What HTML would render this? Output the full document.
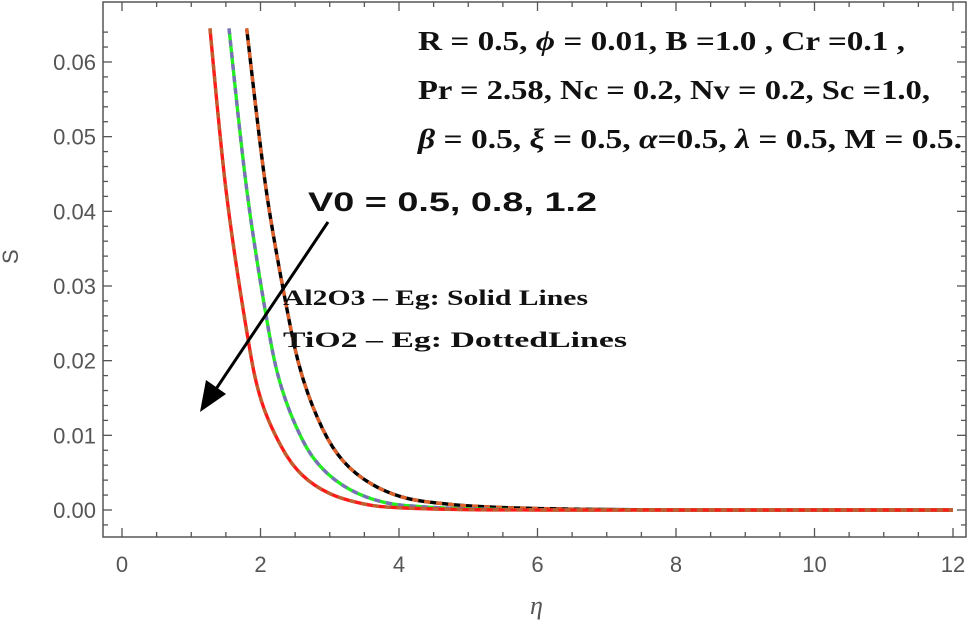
<!DOCTYPE html>
<html><head><meta charset="utf-8"><style>
body{margin:0;background:#fff;}
svg{display:block;}
</style></head><body>
<svg id="chart" width="974" height="626" viewBox="0 0 974 626">
<rect x="103" y="2" width="863" height="535" fill="none" stroke="#555" stroke-width="1.5"/>
<g id="ticks"></g>
<g id="series"></g>
<text x="12" y="258" font-family="Liberation Sans, sans-serif" font-size="22" fill="#555" transform="rotate(-90 18 258)">S</text>
<text x="530" y="614" font-family="Liberation Serif, serif" font-style="italic" font-size="26" fill="#555">η</text>
<g font-family="Liberation Serif, serif" font-weight="bold" font-size="27" fill="#111">
<text x="418" y="50" textLength="487" lengthAdjust="spacingAndGlyphs">R = 0.5, <tspan font-style="italic">ϕ</tspan> = 0.01, B =1.0 , Cr =0.1 ,</text>
<text x="418" y="99" textLength="512" lengthAdjust="spacingAndGlyphs">Pr = 2.58, Nc = 0.2, Nv = 0.2, Sc =1.0,</text>
<text x="418" y="148" textLength="544" lengthAdjust="spacingAndGlyphs"><tspan font-style="italic">β</tspan> = 0.5, <tspan font-style="italic">ξ</tspan> = 0.5,  <tspan font-style="italic">α</tspan>=0.5, <tspan font-style="italic">λ</tspan> = 0.5, M = 0.5.</text>
</g>
<text x="308" y="211" font-family="Liberation Sans, sans-serif" font-weight="bold" font-size="27" fill="#111" textLength="289" lengthAdjust="spacingAndGlyphs">V0 =  0.5, 0.8, 1.2</text>
<text x="283" y="305" font-family="Liberation Serif, serif" font-weight="bold" font-size="22" fill="#111" textLength="305" lengthAdjust="spacingAndGlyphs">Al2O3 – Eg: Solid Lines</text>
<text x="283" y="347" font-family="Liberation Serif, serif" font-weight="bold" font-size="22" fill="#111" textLength="344" lengthAdjust="spacingAndGlyphs">TiO2 – Eg: DottedLines</text>
<line x1="328" y1="222" x2="214" y2="392" stroke="#000" stroke-width="3"/>
<polygon points="200,412 206,380 226,394" fill="#000"/>
</svg>
<script>
const xTicks=[0,2,4,6,8,10,12];
const yTicks=[0.00,0.01,0.02,0.03,0.04,0.05,0.06];
const yTickLabels=["0.00","0.01","0.02","0.03","0.04","0.05","0.06"];
const etaRed=[1.27,1.5,1.8,2.0,2.3,2.6,3.0,3.5,4.0,5,6,8,10,12];
const sRed=[0.0645,0.043,0.024,0.015,0.0085,0.0047,0.0022,0.0008,0.0003,0.00005,0,0,0,0];
const etaGreen=[1.545,1.8,2.1,2.3,2.6,2.9,3.3,3.8,4.4,5.3,6.5,8,10,12];
const sGreen=[0.0645,0.043,0.025,0.0165,0.0095,0.0055,0.0027,0.001,0.0004,0.0001,0,0,0,0];
const etaBlack=[1.80,2.08,2.38,2.6,2.9,3.2,3.6,4.1,4.8,5.6,6.6,8,10,12];
const sBlack=[0.0645,0.043,0.027,0.018,0.0108,0.0065,0.0035,0.0016,0.0007,0.0003,0.0001,0,0,0];
const NS="http://www.w3.org/2000/svg";
function X(v){return 122+v*69.25;}
function Y(v){return 510-v*7467;}
const tg=document.getElementById('ticks');
function mk(tag,attrs){const e=document.createElementNS(NS,tag);for(const k in attrs)e.setAttribute(k,attrs[k]);return e;}
for(let v=0;v<=12.001;v+=0.5){
 const major=Math.abs(v-Math.round(v/2)*2)<1e-6;const L=major?9:5;
 const t=mk('line',{x1:X(v),x2:X(v),y1:537,y2:537-L,stroke:'#555','stroke-width':1.3});
 
 
 tg.appendChild(t);
 const t2=mk('line',{x1:X(v),x2:X(v),y1:2,y2:2+L,stroke:'#555','stroke-width':1.3});
 
 
 tg.appendChild(t2);
}
for(let i=-1;i<=32;i++){
 const v=i*0.002;const y=Y(v);if(y<4||y>535)continue;
 const major=i%5===0;const L=major?9:5;
 const t=mk('line',{x1:103,x2:103+L,y1:y,y2:y,stroke:'#555','stroke-width':1.3});
 
 
 tg.appendChild(t);
 const t2=mk('line',{x1:966,x2:966-L,y1:y,y2:y,stroke:'#555','stroke-width':1.3});
 
 
 tg.appendChild(t2);
}
xTicks.forEach(v=>{
 const t=mk('text',{x:X(v),y:572,'text-anchor':'middle','font-family':'Liberation Sans, sans-serif','font-size':22,fill:'#555'});
 t.textContent=String(v);
 
 
 tg.appendChild(t);
});
yTicks.forEach((v,i)=>{
 const t=mk('text',{x:96,y:Y(v)+8,'text-anchor':'end','font-family':'Liberation Sans, sans-serif','font-size':22,fill:'#555'});
 t.textContent=yTickLabels[i];
 
 
 tg.appendChild(t);
});
function pathFor(xs,ys){
 const p=xs.map((x,i)=>[X(x),Y(ys[i])]);
 let d='M'+p[0][0]+','+p[0][1];
 for(let i=0;i<p.length-1;i++){
  const p0=p[i-1]||p[i],p1=p[i],p2=p[i+1],p3=p[i+2]||p2;
  const c1x=p1[0]+(p2[0]-p0[0])/6,c1y=p1[1]+(p2[1]-p0[1])/6;
  const c2x=p2[0]-(p3[0]-p1[0])/6,c2y=p2[1]-(p3[1]-p1[1])/6;
  d+=' C'+c1x+','+c1y+' '+c2x+','+c2y+' '+p2[0]+','+p2[1];
 }
 return d;
}
const sg=document.getElementById('series');
[[etaBlack,sBlack,'#000','#e0602a','v0-1.2'],[etaGreen,sGreen,'#22ee22','#7a70b8','v0-0.8'],[etaRed,sRed,'#ff1a1a','#c06030','v0-0.5']].forEach(s=>{
 const d=pathFor(s[0],s[1]);
 const a=mk('path',{d:d,fill:'none',stroke:s[2],'stroke-width':3.4});
 
 
 sg.appendChild(a);
 const b=mk('path',{d:d,fill:'none',stroke:s[3],'stroke-width':3.4,'stroke-dasharray':'6 6'});
 
 
 sg.appendChild(b);
});
</script>
</body></html>
